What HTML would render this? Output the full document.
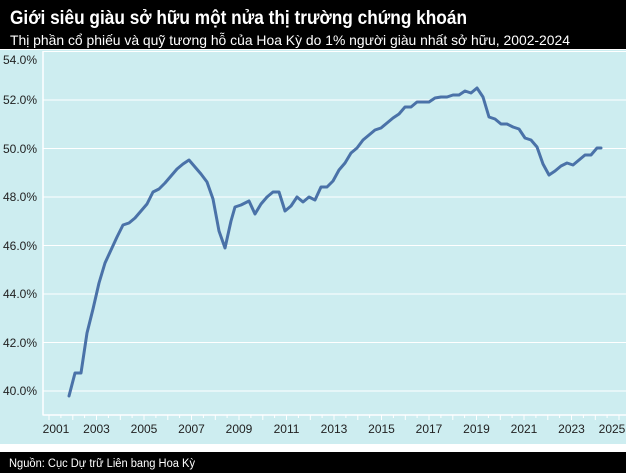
<!DOCTYPE html>
<html><head><meta charset="utf-8"><style>
html,body{margin:0;padding:0;background:#fff;}
svg{display:block;}
</style></head><body>
<svg width="626" height="473" viewBox="0 0 626 473" xmlns="http://www.w3.org/2000/svg" font-family="'Liberation Sans', sans-serif">
<rect x="0" y="0" width="626" height="49" fill="#000"/>
<rect x="0" y="50" width="626" height="394" fill="#cdedf0"/>
<rect x="0" y="452" width="626" height="21" fill="#000"/>
<text x="10" y="24" fill="#fff" font-size="19" font-weight="bold" font-family="'Liberation Sans Narrow','Liberation Sans',sans-serif" textLength="457" lengthAdjust="spacingAndGlyphs">Giới siêu giàu sở hữu một nửa thị trường chứng khoán</text>
<text x="10" y="45" fill="#fff" font-size="14" font-family="'Liberation Sans Narrow','Liberation Sans',sans-serif" textLength="560" lengthAdjust="spacingAndGlyphs">Thị phần cổ phiếu và quỹ tương hỗ của Hoa Kỳ do 1% người giàu nhất sở hữu, 2002-2024</text>
<text x="9" y="467" fill="#fff" font-size="11.5" font-family="'Liberation Sans Narrow','Liberation Sans',sans-serif" textLength="186" lengthAdjust="spacingAndGlyphs">Nguồn: Cục Dự trữ Liên bang Hoa Kỳ</text>
<g stroke="#fff" stroke-width="1">
<line x1="43" y1="51.5" x2="626" y2="51.5"/>
<line x1="43" y1="100" x2="626" y2="100"/>
<line x1="43" y1="148.5" x2="626" y2="148.5"/>
<line x1="43" y1="197" x2="626" y2="197"/>
<line x1="43" y1="245.5" x2="626" y2="245.5"/>
<line x1="43" y1="294" x2="626" y2="294"/>
<line x1="43" y1="342.5" x2="626" y2="342.5"/>
<line x1="43" y1="391" x2="626" y2="391"/>
<line x1="43" y1="51" x2="43" y2="415.5" stroke-width="1.5"/>
<line x1="43" y1="415" x2="626" y2="415" stroke-width="1.5"/>
</g>
<g stroke="#fff" stroke-width="1" id="ticks"></g>
<g font-size="12" fill="#222" text-anchor="end">
<text x="37" y="64">54.0%</text>
<text x="37" y="104">52.0%</text>
<text x="37" y="153">50.0%</text>
<text x="37" y="201">48.0%</text>
<text x="37" y="250">46.0%</text>
<text x="37" y="298">44.0%</text>
<text x="37" y="347">42.0%</text>
<text x="37" y="395">40.0%</text>
</g>
<g font-size="12" fill="#222" text-anchor="middle">
<text x="56" y="433">2001</text>
<text x="96.5" y="433">2003</text>
<text x="144" y="433">2005</text>
<text x="191.5" y="433">2007</text>
<text x="239" y="433">2009</text>
<text x="286.5" y="433">2011</text>
<text x="334" y="433">2013</text>
<text x="381.5" y="433">2015</text>
<text x="429" y="433">2017</text>
<text x="476.5" y="433">2019</text>
<text x="524" y="433">2021</text>
<text x="571.5" y="433">2023</text>
<text x="612" y="433">2025</text>
</g>
<polyline fill="none" stroke="#4a72a8" stroke-width="3" stroke-linejoin="round" stroke-linecap="round" points="69,396 75,373 81,373 87,333 93,309 99,283 105,263 111,250 117,237 123,225 129,223 135,218 141,211 147,204 153,192 159,189 165,183 171,176 177,169 183,164 189,160 195,167 201,174 207,182 213,199 219,231 225,248 231,221 235,207 241,205 249,201 255,214 261,204 267,197 273,192 279,192 285,211 291,206 297,197 303,202 309,197 315,200 321,187 327,187 333,181 339,170 345,163 351,153 357,148 363,140 369,135 375,130 381,128 387,123 393,118 399,114 405,107 411,107 417,102 423,102 429,102 435,98 441,97 447,97 453,95 459,95 465,91 471,93 477,88 483,97 489,117 495,119 501,124 507,124 513,127 519,129 525,138 531,140 537,147 543,164 549,175 555,171 561,166 567,163 573,165 579,160 585,155 591,155 597,148 601,148"/>
<g stroke="#fff" stroke-width="1">
<line x1="49" y1="415" x2="49" y2="420"/><line x1="60.9" y1="415" x2="60.9" y2="418"/>
<line x1="72.8" y1="415" x2="72.8" y2="420"/><line x1="84.6" y1="415" x2="84.6" y2="418"/>
<line x1="96.5" y1="415" x2="96.5" y2="420"/><line x1="108.4" y1="415" x2="108.4" y2="418"/>
<line x1="120.3" y1="415" x2="120.3" y2="420"/><line x1="132.1" y1="415" x2="132.1" y2="418"/>
<line x1="144" y1="415" x2="144" y2="420"/><line x1="155.9" y1="415" x2="155.9" y2="418"/>
<line x1="167.8" y1="415" x2="167.8" y2="420"/><line x1="179.6" y1="415" x2="179.6" y2="418"/>
<line x1="191.5" y1="415" x2="191.5" y2="420"/><line x1="203.4" y1="415" x2="203.4" y2="418"/>
<line x1="215.3" y1="415" x2="215.3" y2="420"/><line x1="227.1" y1="415" x2="227.1" y2="418"/>
<line x1="239" y1="415" x2="239" y2="420"/><line x1="250.9" y1="415" x2="250.9" y2="418"/>
<line x1="262.8" y1="415" x2="262.8" y2="420"/><line x1="274.6" y1="415" x2="274.6" y2="418"/>
<line x1="286.5" y1="415" x2="286.5" y2="420"/><line x1="298.4" y1="415" x2="298.4" y2="418"/>
<line x1="310.3" y1="415" x2="310.3" y2="420"/><line x1="322.1" y1="415" x2="322.1" y2="418"/>
<line x1="334" y1="415" x2="334" y2="420"/><line x1="345.9" y1="415" x2="345.9" y2="418"/>
<line x1="357.8" y1="415" x2="357.8" y2="420"/><line x1="369.6" y1="415" x2="369.6" y2="418"/>
<line x1="381.5" y1="415" x2="381.5" y2="420"/><line x1="393.4" y1="415" x2="393.4" y2="418"/>
<line x1="405.3" y1="415" x2="405.3" y2="420"/><line x1="417.1" y1="415" x2="417.1" y2="418"/>
<line x1="429" y1="415" x2="429" y2="420"/><line x1="440.9" y1="415" x2="440.9" y2="418"/>
<line x1="452.8" y1="415" x2="452.8" y2="420"/><line x1="464.6" y1="415" x2="464.6" y2="418"/>
<line x1="476.5" y1="415" x2="476.5" y2="420"/><line x1="488.4" y1="415" x2="488.4" y2="418"/>
<line x1="500.3" y1="415" x2="500.3" y2="420"/><line x1="512.1" y1="415" x2="512.1" y2="418"/>
<line x1="524" y1="415" x2="524" y2="420"/><line x1="535.9" y1="415" x2="535.9" y2="418"/>
<line x1="547.8" y1="415" x2="547.8" y2="420"/><line x1="559.6" y1="415" x2="559.6" y2="418"/>
<line x1="571.5" y1="415" x2="571.5" y2="420"/><line x1="583.4" y1="415" x2="583.4" y2="418"/>
<line x1="595.3" y1="415" x2="595.3" y2="420"/><line x1="607.1" y1="415" x2="607.1" y2="418"/>
<line x1="619" y1="415" x2="619" y2="420"/>
</g>
</svg>
</body></html>
